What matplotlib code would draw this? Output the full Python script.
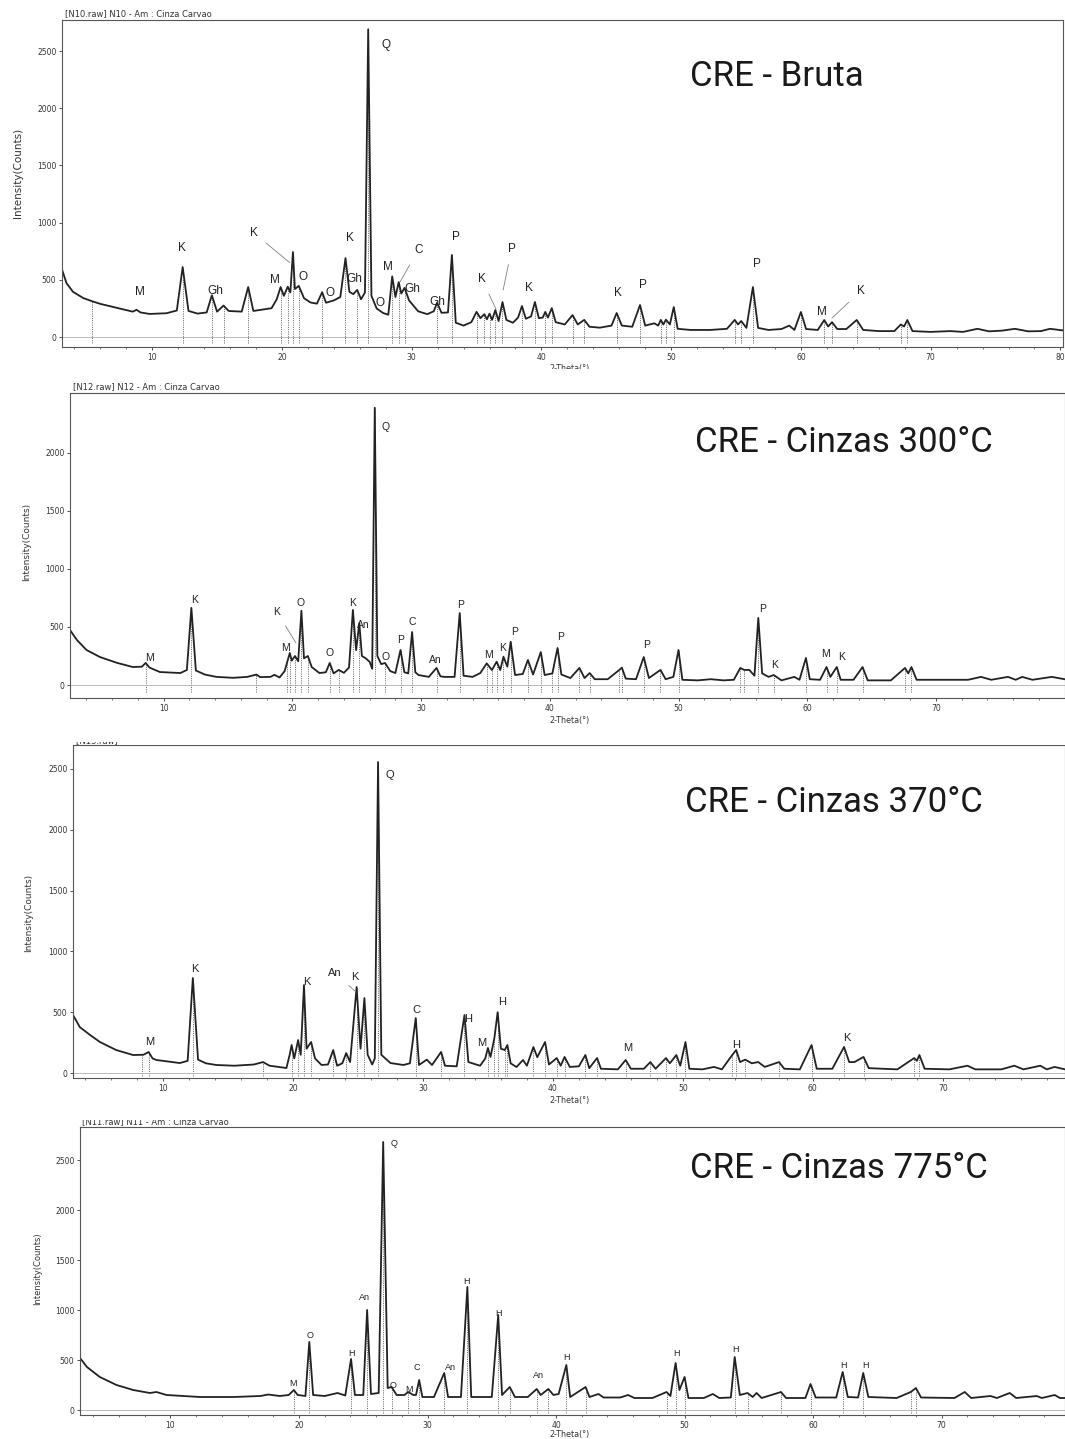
import numpy as np
import matplotlib.pyplot as plt
from matplotlib.patches import Rectangle
from matplotlib.ticker import MultipleLocator

W, H = 1065, 1439

# ---------------- CRE - Bruta (N10) ----------------
bruta_tt = [3.05, 3.4, 3.9, 4.7, 5.4, 6.0, 7.3, 8.5, 8.8, 9.1, 9.8, 11.1, 11.9, 12.35, 12.8,
            13.5, 14.2, 14.6, 15.0, 15.5, 15.9, 16.9, 17.4, 17.8, 18.5, 19.2, 19.6, 19.9, 20.15,
            20.45, 20.65, 20.85, 21.0, 21.3, 21.7, 22.2, 22.7, 23.1, 23.4, 24.0, 24.5, 24.9, 25.2,
            25.5, 25.8, 26.1, 26.4, 26.65, 26.9, 27.3, 27.8, 28.2, 28.5, 28.75, 29.0, 29.2, 29.45,
            29.8, 30.5, 31.2, 31.7, 31.96, 32.3, 32.8, 33.1, 33.4, 34.0, 34.6, 35.0, 35.3, 35.6,
            35.8, 36.0, 36.2, 36.45, 36.7, 37.0, 37.3, 37.8, 38.2, 38.5, 38.8, 39.2, 39.5, 39.8,
            40.1, 40.3, 40.5, 40.8, 41.1, 41.8, 42.4, 42.8, 43.3, 43.7, 44.5, 45.4, 45.8, 46.2,
            47.0, 47.6, 48.0, 48.7, 49.0, 49.2, 49.4, 49.6, 49.9, 50.2, 50.5, 51.5, 53.0, 54.3,
            54.9, 55.15, 55.4, 55.8, 56.3, 56.7, 57.5, 58.5, 59.1, 59.5, 60.0, 60.4, 61.3, 61.8,
            62.1, 62.4, 62.8, 63.5, 64.3, 64.8, 66.0, 67.2, 67.7, 67.95, 68.2, 68.6, 70.0, 71.5,
            72.5, 73.6, 74.5, 75.5, 76.5, 77.5, 78.5, 79.2, 80.2]
bruta_cnt = [590, 470, 395, 340, 312, 290, 255, 222, 238, 215, 202, 208, 232, 612, 228,
             205, 215, 365, 222, 275, 228, 222, 437, 228, 240, 252, 330, 437, 360,
             440, 390, 743, 420, 447, 340, 302, 292, 392, 300, 320, 350, 690, 395,
             375, 412, 330, 390, 2690, 360, 250, 210, 195, 530, 350, 480, 380, 430,
             320, 225, 200, 225, 300, 212, 215, 717, 125, 100, 130, 220, 165, 200,
             155, 205, 150, 236, 140, 306, 150, 125, 170, 271, 160, 180, 306, 165,
             170, 220, 170, 253, 130, 110, 192, 110, 150, 90, 82, 100, 210, 100,
             90, 280, 100, 120, 100, 150, 110, 152, 110, 262, 72, 62, 62, 72,
             150, 110, 140, 80, 437, 80, 62, 70, 100, 62, 219, 70, 62, 149,
             92, 130, 70, 70, 149, 62, 52, 52, 110, 92, 149, 52, 45, 52,
             45, 72, 50, 56, 72, 50, 52, 72, 58]
bruta_refs = [5.4, 12.35, 14.6, 15.5, 17.4, 19.9, 20.45, 20.85, 21.3, 23.1, 24.9, 25.8, 26.65,
              28.5, 29.0, 29.45, 31.96, 33.1, 35.0, 35.6, 36.0, 36.45, 37.0, 38.5, 39.5, 40.3,
              40.8, 42.4, 43.3, 45.8, 47.6, 49.2, 49.6, 50.2, 54.9, 55.4, 56.3, 60.0, 61.8,
              62.4, 64.3, 67.7, 68.2]
bruta_tags = [('M', 9.06, 393, None), ('K', 12.3, 778, None), ('Gh', 14.9, 402, None),
              ('K', 17.85, 909, (20.6, 650)), ('M', 19.5, 498, None), ('O', 21.6, 524, None),
              ('O', 23.7, 385, None), ('K', 25.25, 865, None), ('Gh', 25.6, 507, None),
              ('Q', 28.0, 2552, None), ('O', 27.56, 297, None), ('M', 28.2, 612, None),
              ('C', 30.5, 760, (29.1, 481)), ('Gh', 30.03, 420, None), ('Gh', 31.96, 306, None),
              ('P', 33.4, 874, None), ('K', 35.4, 507, (36.5, 245)),
              ('P', 37.7, 769, (37.05, 411)), ('K', 39.05, 428, None), ('K', 45.9, 385, None),
              ('P', 47.8, 454, None), ('P', 56.6, 638, None), ('M', 61.6, 218, None),
              ('K', 64.6, 402, (62.4, 166))]

# ---------------- CRE - Cinzas 300°C (N12) ----------------
c300_tt = [2.72, 3.26, 4.0, 5.05, 6.4, 7.6, 8.3, 8.6, 8.9, 9.7, 11.3, 11.8, 12.15, 12.5, 13.2,
           14.1, 15.4, 16.5, 17.2, 17.5, 18.3, 18.6, 19.0, 19.4, 19.6, 19.8, 19.95, 20.2, 20.45,
           20.7, 20.9, 21.2, 21.5, 22.1, 22.6, 22.9, 23.2, 23.6, 24.0, 24.4, 24.7, 24.95, 25.2,
           25.4, 25.7, 26.0, 26.2, 26.4, 26.6, 26.9, 27.2, 27.6, 28.0, 28.4, 28.7, 29.0, 29.3,
           29.55, 29.8, 30.6, 31.2, 31.5, 31.8, 32.6, 33.0, 33.3, 34.0, 34.6, 35.1, 35.5, 35.87,
           36.15, 36.4, 36.7, 36.96, 37.3, 37.9, 38.3, 38.7, 39.3, 39.6, 40.2, 40.6, 40.9, 41.6,
           42.3, 42.7, 43.1, 43.5, 44.5, 45.4, 45.6, 45.9, 46.7, 47.3, 47.7, 48.6, 49.0, 49.6,
           50.0, 50.3, 51.5, 52.5, 53.5, 54.3, 54.8, 55.1, 55.5, 55.9, 56.2, 56.5, 57.0, 57.4,
           58.0, 59.0, 59.4, 59.9, 60.2, 61.0, 61.5, 61.8, 62.3, 62.6, 63.6, 64.3, 64.7, 66.5,
           67.6, 67.85, 68.1, 68.5, 70.0, 72.5, 73.5, 74.3, 75.6, 76.2, 76.7, 77.5, 79.0, 80.0]
c300_cnt = [474, 388, 302, 241, 190, 155, 158, 190, 150, 112, 103, 130, 665, 125, 90,
            70, 62, 70, 90, 68, 70, 88, 65, 120, 200, 276, 210, 250, 205,
            640, 230, 250, 155, 103, 110, 190, 100, 130, 105, 150, 647, 300, 534,
            250, 230, 200, 140, 2390, 250, 180, 190, 120, 103, 302, 110, 100, 457,
            110, 86, 70, 147, 75, 70, 70, 620, 80, 70, 103, 187, 129, 201,
            129, 244, 158, 373, 86, 95, 216, 90, 284, 86, 100, 319, 90, 60,
            147, 60, 103, 50, 50, 130, 150, 55, 50, 241, 60, 130, 50, 70,
            302, 45, 40, 50, 40, 45, 147, 130, 130, 80, 578, 100, 70, 86,
            40, 70, 45, 233, 50, 45, 155, 70, 155, 45, 45, 155, 40, 40,
            147, 100, 155, 45, 45, 45, 70, 45, 70, 45, 70, 45, 70, 50]
c300_refs = [8.6, 12.15, 17.2, 19.6, 19.8, 20.2, 20.7, 21.2, 22.9, 23.6, 24.7, 25.2, 26.4, 27.2,
             28.4, 29.3, 31.2, 33.0, 35.1, 35.5, 35.87, 36.4, 36.96, 38.3, 39.3, 40.2, 40.6,
             42.3, 43.1, 45.4, 45.6, 47.3, 48.6, 50.0, 54.8, 55.1, 56.2, 57.4, 59.9, 61.5,
             62.3, 64.3, 67.6, 68.1]
c300_tags = [('M', 8.86, 233, None), ('K', 12.43, 733, None), ('K', 18.8, 629, (20.28, 362)),
             ('M', 19.43, 319, None), ('O', 20.67, 707, None), ('O', 22.92, 276, None),
             ('K', 24.7, 707, None), ('An', 25.5, 517, None), ('Q', 27.2, 2224, None),
             ('O', 27.27, 241, None), ('P', 28.44, 388, None), ('C', 29.3, 543, None),
             ('An', 31.08, 216, None), ('P', 33.1, 690, None), ('M', 35.2, 259, None),
             ('K', 36.36, 319, None), ('P', 37.3, 457, None), ('P', 40.8, 414, None),
             ('P', 47.5, 345, None), ('P', 56.5, 655, None), ('K', 57.5, 172, None),
             ('M', 61.46, 267, None), ('K', 62.7, 241, None)]

# ---------------- CRE - Cinzas 370°C ----------------
c370_tt = [3.08, 3.6, 4.4, 5.15, 6.4, 7.7, 8.5, 8.9, 9.2, 9.5, 11.3, 11.9, 12.3, 12.7, 13.3,
           14.1, 15.5, 17.0, 17.7, 18.2, 19.5, 19.75, 19.9, 20.1, 20.4, 20.6, 20.85, 21.05, 21.4,
           21.7, 22.2, 22.7, 23.1, 23.4, 23.8, 24.1, 24.4, 24.9, 25.2, 25.5, 25.75, 26.1, 26.3,
           26.55, 26.8, 27.5, 28.5, 29.0, 29.45, 29.7, 30.3, 30.7, 31.4, 31.7, 32.6, 33.2, 33.5,
           34.4, 34.8, 35.0, 35.2, 35.5, 35.75, 36.0, 36.3, 36.5, 36.75, 37.2, 37.7, 38.0, 38.5,
           38.8, 39.4, 39.7, 40.3, 40.6, 40.9, 41.3, 42.0, 42.5, 42.8, 43.4, 43.7, 45.0, 45.6,
           46.0, 47.0, 47.5, 47.9, 48.7, 49.0, 49.5, 49.8, 50.2, 50.5, 51.5, 52.4, 53.0, 53.8,
           54.1, 54.4, 54.8, 55.3, 55.8, 56.3, 57.4, 57.8, 59.0, 59.9, 60.3, 61.5, 62.4, 62.8,
           63.2, 63.9, 64.3, 66.5, 67.8, 68.0, 68.2, 68.6, 70.5, 71.9, 72.5, 74.5, 75.5, 76.2,
           77.5, 78.0, 78.6, 79.4]
c370_cnt = [477, 378, 312, 255, 189, 148, 150, 173, 120, 107, 82, 100, 781, 110, 80,
            66, 60, 70, 90, 60, 41, 150, 230, 120, 271, 150, 723, 200, 255,
            120, 66, 70, 189, 60, 80, 164, 90, 707, 200, 616, 150, 70, 120,
            2557, 150, 82, 66, 80, 452, 66, 110, 66, 173, 60, 55, 477, 90,
            60, 120, 206, 132, 288, 500, 200, 189, 230, 80, 49, 107, 60, 214,
            130, 255, 70, 123, 60, 132, 50, 55, 148, 40, 123, 35, 30, 107,
            35, 35, 90, 35, 123, 80, 148, 60, 255, 35, 30, 50, 30, 148,
            189, 90, 110, 80, 90, 50, 90, 35, 30, 230, 35, 35, 214, 90,
            90, 132, 40, 30, 123, 100, 148, 35, 30, 60, 30, 30, 60, 30,
            60, 30, 50, 30]
c370_refs = [8.4, 8.9, 12.3, 17.7, 19.9, 20.4, 20.85, 21.4, 23.1, 24.1, 24.9, 25.5, 26.55, 29.45,
             31.4, 33.2, 35.0, 35.5, 35.75, 36.3, 36.5, 38.5, 39.4, 40.3, 40.9, 42.5, 43.4,
             45.6, 47.5, 48.7, 49.5, 50.2, 53.8, 54.1, 54.8, 57.4, 59.9, 62.4, 63.9, 67.8, 68.2]
c370_tags = [('M', 9.0, 255, None), ('K', 12.46, 855, None), ('K', 21.08, 748, None),
             ('An', 23.23, 822, (24.85, 666)), ('K', 24.77, 789, None), ('Q', 27.46, 2450, None),
             ('C', 29.54, 518, None), ('H', 33.46, 444, None), ('M', 34.54, 247, None),
             ('H', 36.08, 584, None), ('M', 45.77, 205, None), ('H', 54.08, 230, None),
             ('K', 62.6, 288, None)]

# ---------------- CRE - Cinzas 775°C (N11) ----------------
c775_tt = [2.96, 3.5, 4.5, 5.8, 7.1, 8.4, 8.9, 9.7, 12.3, 14.9, 17.0, 17.6, 18.5, 19.2, 19.6,
           19.9, 20.5, 20.8, 21.1, 22.0, 23.0, 23.6, 24.05, 24.35, 25.0, 25.3, 25.6, 26.2, 26.55,
           26.9, 27.2, 27.6, 28.2, 28.5, 28.9, 29.1, 29.35, 29.6, 30.5, 31.3, 31.6, 32.6, 33.1,
           33.4, 34.6, 35.0, 35.5, 35.8, 36.4, 36.8, 37.8, 38.5, 38.8, 39.4, 39.8, 40.2, 40.8,
           41.1, 42.3, 42.6, 43.3, 43.7, 45.0, 45.6, 46.1, 47.5, 48.6, 48.9, 49.3, 49.6, 50.0,
           50.3, 51.5, 52.2, 52.7, 53.6, 53.9, 54.3, 54.9, 55.3, 55.6, 56.0, 57.5, 57.9, 59.4,
           59.8, 60.2, 61.8, 62.3, 62.7, 63.5, 63.9, 64.3, 66.5, 67.6, 68.0, 68.4, 71.0, 71.8,
           72.3, 73.8, 74.3, 75.3, 75.8, 77.4, 77.8, 78.8, 79.2, 79.6]
c775_cnt = [520, 430, 330, 250, 200, 170, 180, 150, 130, 130, 140, 155, 140, 150, 200,
            150, 140, 680, 150, 140, 170, 145, 510, 150, 150, 1000, 160, 170, 2680,
            220, 230, 150, 150, 180, 150, 150, 300, 130, 130, 370, 130, 130, 1230,
            130, 130, 130, 950, 150, 230, 130, 130, 210, 150, 210, 150, 160, 450,
            130, 230, 130, 160, 125, 125, 150, 120, 120, 180, 140, 470, 200, 330,
            120, 120, 160, 120, 125, 530, 150, 170, 130, 170, 120, 180, 120, 120,
            260, 125, 125, 380, 130, 125, 370, 130, 120, 180, 220, 125, 120, 180,
            120, 140, 120, 170, 120, 140, 120, 150, 120, 120]
c775_refs = [19.6, 20.8, 24.05, 25.3, 26.55, 27.2, 28.5, 29.35, 31.3, 33.1, 35.5, 36.4, 38.5,
             39.4, 40.8, 42.3, 48.6, 49.3, 50.0, 53.9, 54.9, 57.5, 59.8, 62.3, 63.9, 67.6, 68.0]
c775_tags = [('M', 19.53, 270, None), ('O', 20.86, 750, None), ('H', 24.05, 570, None),
             ('An', 25.06, 1120, None), ('Q', 27.4, 2660, None), ('O', 27.3, 250, None),
             ('M', 28.56, 200, None), ('C', 29.2, 420, None), ('An', 31.8, 420, None),
             ('H', 33.0, 1290, None), ('H', 35.5, 970, None), ('An', 38.6, 350, None),
             ('H', 40.78, 530, None), ('H', 49.4, 560, None), ('H', 54.0, 610, None),
             ('H', 62.4, 450, None), ('H', 64.05, 450, None)]

LINE = '#222222'
GRID = '#555555'

fig = plt.figure(figsize=(W / 100, H / 100), dpi=100)
fig.patch.set_facecolor('white')


def ftext(x, y, s, **kw):
    return fig.text(x / W, 1 - y / H, s, **kw)


def panel(box, xlim, ylim, ymax_tick, xmax_label, tt, cnt, refs, tags, tag_fs, name,
          name_xy, head, head_xy, ylab_xy, ylab_fs, xlab_y):
    l, t, r, b = box
    ax = fig.add_axes([l / W, 1 - b / H, (r - l) / W, (b - t) / H])
    tt = np.asarray(tt, float)
    cnt = np.asarray(cnt, float)

    # phase reference sticks under the identified reflections
    tops = np.interp(refs, tt, cnt)
    ax.vlines(refs, ylim[0] * 0.55, tops, colors='#606060', lw=0.7,
              linestyles=(0, (1.0, 1.3)), zorder=1)
    ax.axhline(0, color='#a0a0a0', lw=0.5, zorder=1)
    ax.plot(tt, cnt, color=LINE, lw=1.3, solid_joinstyle='round', zorder=2)

    for lab, x, y, lead in tags:
        if lead is None:
            ax.text(x, y, lab, fontsize=tag_fs, ha='center', va='center',
                    color='#222222', family='Liberation Sans', zorder=3)
        else:
            ax.annotate(lab, xy=lead, xytext=(x, y), fontsize=tag_fs, ha='center',
                        va='center', color='#222222', family='Liberation Sans',
                        arrowprops=dict(arrowstyle='-', color='#808080', lw=0.6,
                                        shrinkA=5, shrinkB=0), zorder=3)

    ax.set_xlim(*xlim)
    ax.set_ylim(*ylim)
    ax.set_yticks(np.arange(0, ymax_tick + 1, 500))
    ax.set_xticks(np.arange(10, xmax_label + 1, 10))
    ax.xaxis.set_minor_locator(MultipleLocator(2))
    ax.tick_params(axis='both', which='major', direction='out', length=2.5, width=0.6,
                   labelsize=5.5, pad=1.5, colors='#333333')
    ax.tick_params(axis='x', which='minor', direction='out', length=1.5, width=0.5,
                   colors='#444444')
    for sp in ax.spines.values():
        sp.set_color(GRID)
        sp.set_linewidth(0.8)

    ftext(*name_xy, name, fontsize=25, family='Roboto', color='#1a1a1a',
          ha='left', va='center')
    ftext(*head_xy, head, fontsize=6, color='#333333', ha='left', va='center')
    ftext(*ylab_xy, 'Intensity(Counts)', fontsize=ylab_fs, color='#333333',
          rotation=90, ha='center', va='center')
    ftext(570, xlab_y, '2-Theta(°)', fontsize=5.8, color='#333333',
          ha='center', va='center')
    return ax


panel((62, 20, 1063, 347), (3.05, 80.2), (-87, 2771), 2500, 80,
      bruta_tt, bruta_cnt, bruta_refs, bruta_tags, 8.5,
      'CRE - Bruta', (690, 77), '[N10.raw] N10 - Am : Cinza Carvao', (65, 14),
      (18, 173), 7.5, 369)

panel((70, 393, 1065, 698), (2.72, 80.03), (-112, 2517), 2000, 70,
      c300_tt, c300_cnt, c300_refs, c300_tags, 7.5,
      'CRE - Cinzas 300°C', (695, 442), '[N12.raw] N12 - Am : Cinza Carvao', (73, 387),
      (27, 542), 6.5, 720)

panel((73, 745, 1065, 1078), (3.08, 79.4), (-41, 2697), 2500, 70,
      c370_tt, c370_cnt, c370_refs, c370_tags, 8,
      'CRE - Cinzas 370°C', (685, 802), '[N13.raw] N13 - Am : Cinza Carvao', (76, 741),
      (29, 913), 6.5, 1101)

panel((80, 1127, 1065, 1415), (2.96, 79.6), (-50, 2830), 2500, 70,
      c775_tt, c775_cnt, c775_refs, c775_tags, 6.5,
      'CRE - Cinzas 775°C', (690, 1168), '[N11.raw] N11 - Am : Cinza Carvao', (82, 1122),
      (38, 1269), 6, 1434)

# the stacked scans overlap each other: hide the parts covered by the next scan
covers = [(0, 369, 1065, 12), (0, 726, 1065, 16), (117, 742, 948, 3), (0, 1108, 1065, 12)]
for x, y, w, h in covers:
    fig.add_artist(Rectangle((x / W, 1 - (y + h) / H), w / W, h / H,
                             transform=fig.transFigure, facecolor='white',
                             edgecolor='none', zorder=4))

fig.savefig('out.png', dpi=100, facecolor='white')
